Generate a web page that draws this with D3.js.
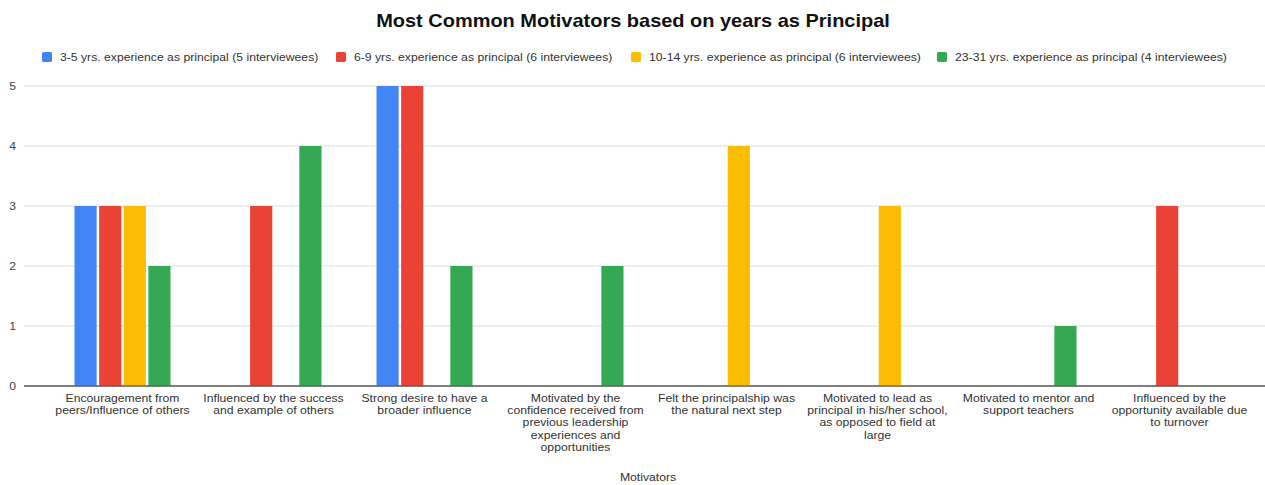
<!DOCTYPE html>
<html>
<head>
<meta charset="utf-8">
<script src="https://cdn.jsdelivr.net/npm/d3@7"></script>
<style>
  html, body { margin: 0; padding: 0; background: #fff; }
  svg { display: block; font-family: Arial, "Liberation Sans", sans-serif; }
</style>
</head>
<body>
<svg id="chart" width="1265" height="485"></svg>
<script>
// Motivator categories (each entry holds the wrapped label lines)
const categories = [
  ["Encouragement from", "peers/Influence of others"],
  ["Influenced by the success", "and example of others"],
  ["Strong desire to have a", "broader influence"],
  ["Motivated by the", "confidence received from", "previous leadership", "experiences and", "opportunities"],
  ["Felt the principalship was", "the natural next step"],
  ["Motivated to lead as", "principal in his/her school,", "as opposed to field at", "large"],
  ["Motivated to mentor and", "support teachers"],
  ["Influenced by the", "opportunity available due", "to turnover"]
];

const seriesNames = [
  "3-5 yrs. experience as principal (5 interviewees)",
  "6-9 yrs. experience as principal (6 interviewees)",
  "10-14 yrs. experience as principal (6 interviewees)",
  "23-31 yrs. experience as principal (4 interviewees)"
];

// Counts per motivator for each experience group (0 = not mentioned)
const years3to5   = [3, 0, 5, 0, 0, 0, 0, 0];
const years6to9   = [3, 3, 5, 0, 0, 0, 0, 3];
const years10to14 = [3, 0, 0, 0, 4, 3, 0, 0];
const years23to31 = [2, 4, 2, 2, 0, 0, 1, 0];

const yTicks = [0, 1, 2, 3, 4, 5];
const colors = ["#4285F4", "#EA4335", "#FBBC04", "#34A853"];

const seriesValues = [years3to5, years6to9, years10to14, years23to31];

const svg = d3.select("#chart");

// Text is drawn slightly widened horizontally
const stretch = 1.11;
function addText(parent, x, y, str, opts = {}) {
  const t = parent.append("text")
    .attr("transform", `translate(${x},${y}) scale(${stretch},1)`)
    .attr("text-anchor", opts.anchor || "start")
    .attr("font-size", opts.size || 11)
    .attr("font-weight", opts.weight || "normal")
    .attr("fill", opts.fill || "#333");
  if (str !== null) t.text(str);
  return t;
}

const plotLeft = 24, plotRight = 1265;
const y = d3.scaleLinear().domain([0, 5]).range([386, 86]);

const x0 = d3.scaleBand()
  .domain(d3.range(categories.length))
  .range([47, 1255]);

const x1 = d3.scaleBand()
  .domain(d3.range(seriesNames.length))
  .range([27.5, x0.bandwidth() - 27.5])
  .paddingInner(0.1);

// Title
addText(svg, 633, 27, "Most Common Motivators based on years as Principal",
  { anchor: "middle", size: 18, weight: "bold", fill: "#111" });

// Legend
const legendX = [42, 336, 631, 937];
const legend = svg.append("g");
seriesNames.forEach((name, i) => {
  const g = legend.append("g").attr("transform", `translate(${legendX[i]},52)`);
  g.append("rect").attr("width", 10).attr("height", 10).attr("rx", 1.5)
    .attr("fill", colors[i]);
  addText(g, 18, 9, name, { size: 11, fill: "#333" });
});

// Gridlines and y labels
const grid = svg.append("g");
yTicks.forEach(t => {
  grid.append("line")
    .attr("x1", plotLeft).attr("x2", plotRight)
    .attr("y1", y(t)).attr("y2", y(t))
    .attr("stroke", t === 0 ? "#555" : "#dcdcdc")
    .attr("stroke-width", t === 0 ? 1.2 : 1);
  addText(grid, 16, y(t) + 4, t, { anchor: "end", size: 11, fill: "#444" });
});

// Bars
const groups = svg.append("g").selectAll("g")
  .data(categories.map((c, i) => i))
  .join("g")
  .attr("transform", i => `translate(${x0(i)},0)`);

groups.selectAll("rect")
  .data(i => seriesValues.map((vals, s) => ({ s, v: vals[i] })).filter(d => d.v > 0))
  .join("rect")
  .attr("x", d => x1(d.s))
  .attr("width", x1.bandwidth())
  .attr("y", d => y(d.v))
  .attr("height", d => y(0) - y(d.v))
  .attr("fill", d => colors[d.s]);

// Redraw baseline above the bars
svg.append("line")
  .attr("x1", plotLeft).attr("x2", plotRight)
  .attr("y1", y(0)).attr("y2", y(0))
  .attr("stroke", "#555").attr("stroke-width", 1.2);

// Category labels
const labels = svg.append("g");
categories.forEach((lines, i) => {
  const t = addText(labels, x0(i) + x0.bandwidth() / 2, 402, null,
    { anchor: "middle", size: 11, fill: "#333" });
  lines.forEach((ln, k) => {
    t.append("tspan")
      .attr("x", 0)
      .attr("y", k * 12.2)
      .text(ln);
  });
});

// Axis title
addText(svg, 648, 481, "Motivators", { anchor: "middle", size: 11, fill: "#333" });
</script>
</body>
</html>
